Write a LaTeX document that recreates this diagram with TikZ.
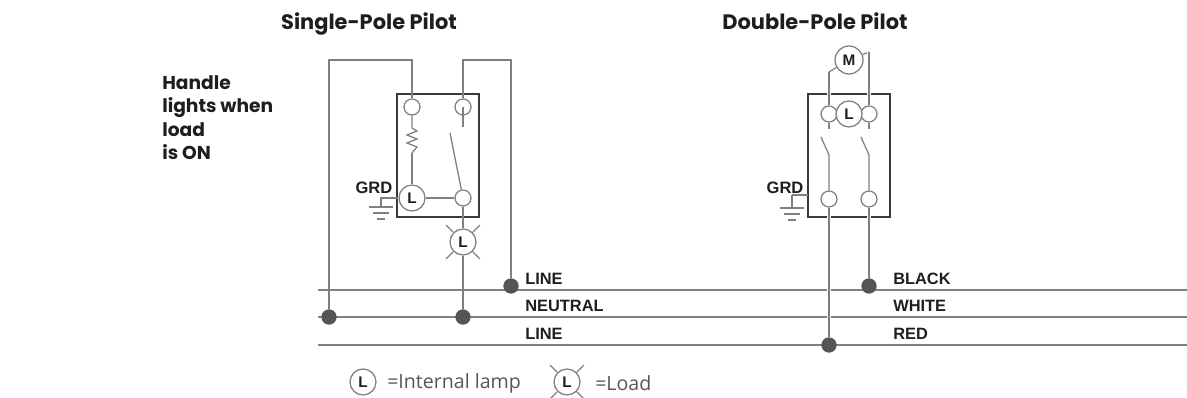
\documentclass[tikz,border=0pt]{standalone}
\usepackage{fontspec}
\setmainfont{Liberation Sans}
\newfontfamily\titlefont{Poppins}
\newfontfamily\legendfont{Open Sans}
\definecolor{wiregray}{HTML}{808080}
\definecolor{boxgray}{HTML}{3A3A3A}
\definecolor{dotgray}{HTML}{555555}
\definecolor{inkgray}{HTML}{1E1E1E}
\tikzset{
  wire/.style={draw=wiregray,line width=0.95pt},
  halowire/.style={wire,preaction={draw=white,line width=3.4pt}},
  switchbox/.style={draw=boxgray,line width=1pt},
  terminal/.style={circle,draw=wiregray,line width=0.95pt,fill=white,minimum size=12pt,inner sep=0pt},
  lamp/.style={circle,draw=wiregray,line width=0.95pt,fill=white,minimum size=19.5pt,inner sep=0pt,text=inkgray,font=\bfseries\fontsize{11.5}{11.5}\selectfont},
  junction/.style={circle,fill=dotgray,minimum size=11.5pt,inner sep=0pt},
  buslabel/.style={anchor=west,inner sep=0pt,text=inkgray,font=\bfseries\fontsize{12.3}{12.3}\selectfont},
  grdlabel/.style={inner sep=0pt,text=inkgray,font=\bfseries\fontsize{12.4}{12.4}\selectfont},
  polelabel/.style={anchor=base,inner sep=0pt,text=inkgray,font=\titlefont\bfseries\fontsize{15.7}{15.7}\selectfont},
  legendlabel/.style={anchor=west,inner sep=0pt,text=dotgray,font=\legendfont\fontsize{14.7}{14.7}\selectfont}
}
\newcommand{\lamprays}[2]{
  \foreach \a in {45,135,225,315}
    \draw[wire] (#1)++(\a:#2) -- ++(\a:10);
}
\newcommand{\earth}[1]{
  \draw[wire] (#1)++(-12,0) -- ++(24,0);
  \draw[wire] (#1)++(-8,6) -- ++(16,0);
  \draw[wire] (#1)++(-4,12) -- ++(8,0);
}
\begin{document}
\begin{tikzpicture}[x=0.75pt,y=-0.75pt]
  \useasboundingbox (0,0) rectangle (1187,398);

  \node[polelabel] (titleS) at (369,30) {Single-Pole Pilot};
  \node[polelabel] (titleD) at (815,30) {Double-Pole Pilot};
  \node[anchor=north west,inner sep=0pt,align=left,text=inkgray,font=\titlefont\bfseries\fontsize{14}{17.6}\selectfont] (handle) at (162,75) {Handle\\lights when\\load\\is ON};

  \coordinate (busAw) at (318,290);
  \coordinate (busAe) at (1187,290);
  \coordinate (busBw) at (318,317);
  \coordinate (busBe) at (1187,317);
  \coordinate (busCw) at (318,345);
  \coordinate (busCe) at (1187,345);
  \draw[wire] (busAw) -- (busAe);
  \draw[wire] (busBw) -- (busBe);
  \draw[wire] (busCw) -- (busCe);

  \node[buslabel] (lineA) at (525,278.6) {LINE};
  \node[buslabel] (neutral) at (525,306.2) {NEUTRAL};
  \node[buslabel] (lineB) at (525,333.6) {LINE};
  \node[buslabel] (black) at (893,278.6) {BLACK};
  \node[buslabel] (white) at (893,306.2) {WHITE};
  \node[buslabel] (red) at (893,333.6) {RED};

  % single pole
  \draw[switchbox] (397,94) rectangle (479,217);
  \coordinate (topA) at (412,60);
  \coordinate (topB) at (511,60);
  \coordinate (stubB) at (463,127);
  \coordinate (armtip) at (450,133);
  \coordinate (resTop) at (412,128);
  \coordinate (resBot) at (412,153);
  \coordinate (grdS) at (381,196);
  \coordinate (earthS) at (381,207);
  \node[terminal] (termA) at (412,107) {};
  \node[terminal] (termB) at (463,107) {};
  \node[terminal] (termC) at (463,198) {};
  \node[lamp] (lampS) at (412,198) {L};
  \node[lamp] (loadS) at (463,242) {L};
  \node[junction] (dotN) at (329,317) {};
  \node[junction] (dotM) at (463,317) {};
  \node[junction] (dotL) at (511,286) {};
  \draw[wire] (dotN) |- (topA) -- (termA);
  \draw[wire] (termB) |- (topB) -- (dotL);
  \draw[wire] (termB.center) -- (stubB);
  \draw[wire] (termC) -- (armtip);
  \draw[wire] (termA) -- (resTop) -- ++(5,3) -- ++(-10,4) -- ++(10,4) -- ++(-10,4) -- ++(10,4) -- ++(-5,6) -- (resBot);
  \draw[wire] (resBot) -- (lampS);
  \draw[wire] (lampS) -- (termC);
  \draw[wire] (termC) -- (loadS);
  \draw[wire] (loadS) -- (dotM);
  \draw[wire] (lampS) -- (lampS -| grdS) -- (earthS);
  \earth{earthS}
  \lamprays{loadS}{14}
  \node[grdlabel] (grdtextS) at (374,188) {GRD};

  % double pole
  \draw[switchbox] (808,94) rectangle (890,217);
  \coordinate (wireL) at (829,72);
  \coordinate (wireR) at (869,52);
  \coordinate (stubL) at (829,129);
  \coordinate (stubR) at (869,129);
  \coordinate (armL) at (821,137);
  \coordinate (armR) at (861,137);
  \coordinate (kneeL) at (829,155);
  \coordinate (kneeR) at (869,155);
  \coordinate (grdD) at (792,195);
  \coordinate (earthD) at (792,208);
  \node[lamp,minimum size=21pt] (motor) at (849,60) {M};
  \node[terminal] (termL) at (829,114) {};
  \node[terminal] (termR) at (869,114) {};
  \node[lamp] (lampD) at (849,114) {L};
  \node[terminal] (termP) at (829,199) {};
  \node[terminal] (termQ) at (869,199) {};
  \node[junction] (dotB) at (869,286) {};
  \node[junction] (dotR) at (829,345) {};
  \draw[wire] (motor) -- (wireL);
  \draw[wire] (motor) -- (wireR);
  \draw[halowire] (wireL) -- (termL);
  \draw[halowire] (wireR) -- (termR);
  \draw[wire] (termL) -- (stubL);
  \draw[wire] (termR) -- (stubR);
  \draw[wire] (armL) -- (kneeL) -- (termP);
  \draw[wire] (armR) -- (kneeR) -- (termQ);
  \draw[halowire] (termP) -- (dotR);
  \draw[halowire] (termQ) -- (dotB);
  \draw[wire] (grdD) -- (808,195);
  \draw[wire] (grdD) -- (earthD);
  \earth{earthD}
  \node[grdlabel] (grdtextD) at (785,188) {GRD};

  % legend
  \node[lamp] (keyL) at (363,382) {L};
  \node[legendlabel] (keyLtext) at (387,383) {=Internal lamp};
  \node[lamp] (keyX) at (567,382) {L};
  \node[legendlabel] (keyXtext) at (595,383) {=Load};
  \lamprays{keyX}{14}
\end{tikzpicture}
\end{document}
